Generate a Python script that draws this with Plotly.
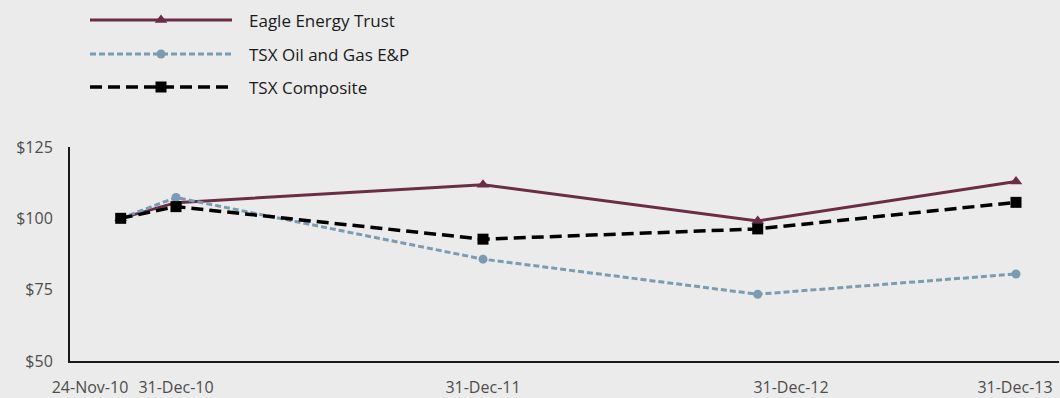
import plotly.graph_objects as go

# ---- data ----
dates = ["24-Nov-10", "31-Dec-10", "31-Dec-11", "31-Dec-12", "31-Dec-13"]
eagle = [100, 105.5, 111.8, 99.1, 112.9]
tsx_og = [100, 107.3, 85.7, 73.4, 80.5]
tsx_comp = [100, 104.1, 92.7, 96.3, 105.6]
series_names = ["Eagle Energy Trust", "TSX Oil and Gas E&P", "TSX Composite"]
y_ticks = [50, 75, 100, 125]
y_tick_labels = ["$50", "$75", "$100", "$125"]

# ---- layout helpers (positions along the x axis, in plot units) ----
point_pos = [50.7, 106, 413, 687.7, 946]
label_pos = [20, 106, 413, 721, 945]

W, H = 1060, 398
PL, PR, PT, PB = 70, 1059, 147, 361  # plot area in pixels

BG = "#EBEBEB"
FONT = "Open Sans"
colors = ["#6B2D45", "#7A9BB0", "#000000"]
dashes = ["solid", "6px,3px", "12px,6px"]
symbols = ["triangle-up", "circle", "square"]
msizes = [11, 9, 11]
widths = [3, 3, 3.5]
values = [eagle, tsx_og, tsx_comp]

fig = go.Figure()
for name, vals, c, d, s, ms, w in zip(series_names, values, colors, dashes, symbols, msizes, widths):
    fig.add_trace(go.Scatter(
        x=point_pos, y=vals, mode="lines+markers", name=name,
        line=dict(color=c, width=w, dash=d),
        marker=dict(symbol=s, size=ms, color=c, line=dict(width=0)),
        showlegend=False, xaxis="x", yaxis="y",
    ))

# custom legend (long sample lines like the original), overlay axes in page pixels
legend_rows = [20, 54, 87]  # pixel rows from top
for name, c, d, s, ms, w, yy in zip(series_names, colors, dashes, symbols, msizes, widths, legend_rows):
    fig.add_trace(go.Scatter(
        x=[90, 232], y=[yy, yy], mode="lines",
        line=dict(color=c, width=w, dash=d), showlegend=False,
        xaxis="x2", yaxis="y2", hoverinfo="skip",
    ))
    fig.add_trace(go.Scatter(
        x=[161], y=[yy], mode="markers",
        marker=dict(symbol=s, size=ms, color=c, line=dict(width=0)), showlegend=False,
        xaxis="x2", yaxis="y2", hoverinfo="skip",
    ))
    fig.add_annotation(
        x=247, y=yy, xref="x2", yref="y2", text=name, showarrow=False,
        xanchor="left", yanchor="middle",
        font=dict(family=FONT, size=17, color="#1a1a1a"),
    )

fig.update_layout(
    width=W, height=H,
    paper_bgcolor=BG, plot_bgcolor="rgba(0,0,0,0)",
    margin=dict(l=0, r=0, t=0, b=0),
    font=dict(family=FONT, size=16, color="#4d4d4d"),
    xaxis=dict(
        domain=[PL / W, PR / W], anchor="y", automargin=False,
        range=[0, PR - PL], showgrid=False, zeroline=False,
        showline=True, linecolor="#1a1a1a", linewidth=2,
        tickmode="array", tickvals=label_pos, ticktext=dates,
        ticks="", ticklabelstandoff=11, tickangle=0,
        tickfont=dict(family=FONT, size=16, color="#4d4d4d"),
    ),
    yaxis=dict(
        domain=[1 - PB / H, 1 - PT / H], anchor="x", automargin=False,
        range=[50, 125], showgrid=False, zeroline=False,
        showline=True, linecolor="#1a1a1a", linewidth=2,
        tickmode="array", tickvals=y_ticks, ticktext=y_tick_labels,
        ticks="", ticklabelstandoff=12,
        tickfont=dict(family=FONT, size=16, color="#4d4d4d"),
    ),
    xaxis2=dict(domain=[0, 1], range=[0, W], visible=False, anchor="y2"),
    yaxis2=dict(domain=[0, 1], range=[H, 0], visible=False, anchor="x2"),
)

fig.write_html("out.html")
